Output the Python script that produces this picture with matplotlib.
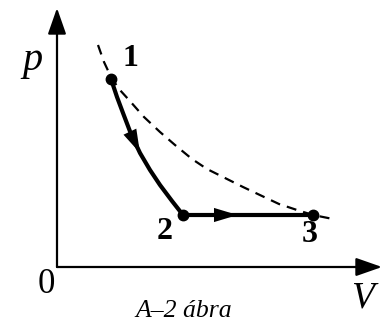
import matplotlib.pyplot as plt

# p-V diagram, arbitrary units (origin at 0, 0)
V_pts = [54, 126, 256]          # states 1, 2, 3
p_pts = [188, 52, 52]
labels = ['1', '2', '3']

# curve 1 -> 2
V_12 = [54, 60, 66, 74, 83, 93, 103, 115, 126]
p_12 = [188, 170, 154, 133, 114, 97, 82, 66, 52]

# dashed isotherm
V_iso = [41, 47, 54, 62, 72, 87, 103, 118, 135, 150, 170, 186, 205, 222, 240, 256, 276]
p_iso = [222, 205, 190, 178, 167, 150, 135, 122, 108, 98, 88, 80, 71, 63, 57, 52, 48]

fig = plt.figure(figsize=(3.84, 3.25), dpi=100)
ax = fig.add_axes([0, 0, 1, 1])
ax.set_xlim(-57, 327)
ax.set_ylim(-58, 267)
ax.axis('off')

serif = 'Liberation Serif'

# axes with arrows
axis_arrow = dict(arrowstyle='-|>,head_length=0.8,head_width=0.28', mutation_scale=20,
                  color='black', lw=1.6, shrinkA=0, shrinkB=0)
ax.annotate('', xy=(0, 259), xytext=(0, 0), arrowprops=axis_arrow)
ax.annotate('', xy=(325, 0), xytext=(0, 0), arrowprops=axis_arrow)

# isotherm
ax.plot(V_iso, p_iso, color='black', lw=1.6, linestyle=(0, (4.5, 3.2)))

# process 1 -> 2 -> 3
ax.plot(V_12, p_12, color='black', lw=3.0, solid_capstyle='round')
ax.plot(V_pts[1:], p_pts[1:], color='black', lw=3.0)
ax.plot(V_pts, p_pts, 'o', color='black', markersize=7.5)

# direction arrows
flow = dict(arrowstyle='-|>,head_length=1.0,head_width=0.3', mutation_scale=17,
            color='black', lw=0, shrinkA=0, shrinkB=0)
ax.annotate('', xy=(V_12[4], p_12[4]), xytext=(V_12[3], p_12[3]), arrowprops=flow)
v_tip = V_pts[1] + 0.42 * (V_pts[2] - V_pts[1])
ax.annotate('', xy=(v_tip, p_pts[1]), xytext=(v_tip - 10, p_pts[1]), arrowprops=flow)

# labels
lab_pos = [(73, 201), (108, 28), (253, 25)]
for t, (x, y) in zip(labels, lab_pos):
    ax.text(x, y, t, family=serif, fontsize=23, fontweight='bold', ha='center', va='baseline')

ax.text(-25, 197, 'p', family=serif, fontsize=29, style='italic', ha='center', va='baseline')
ax.text(-11, -26, '0', family=serif, fontsize=25, ha='center', va='baseline')
ax.text(305, -41, 'V', family=serif, fontsize=27, style='italic', ha='center', va='baseline')
ax.text(127, -50, 'A–2 ábra', family=serif, fontsize=18.5, style='italic', ha='center', va='baseline')

fig.savefig('out.png', dpi=100)
